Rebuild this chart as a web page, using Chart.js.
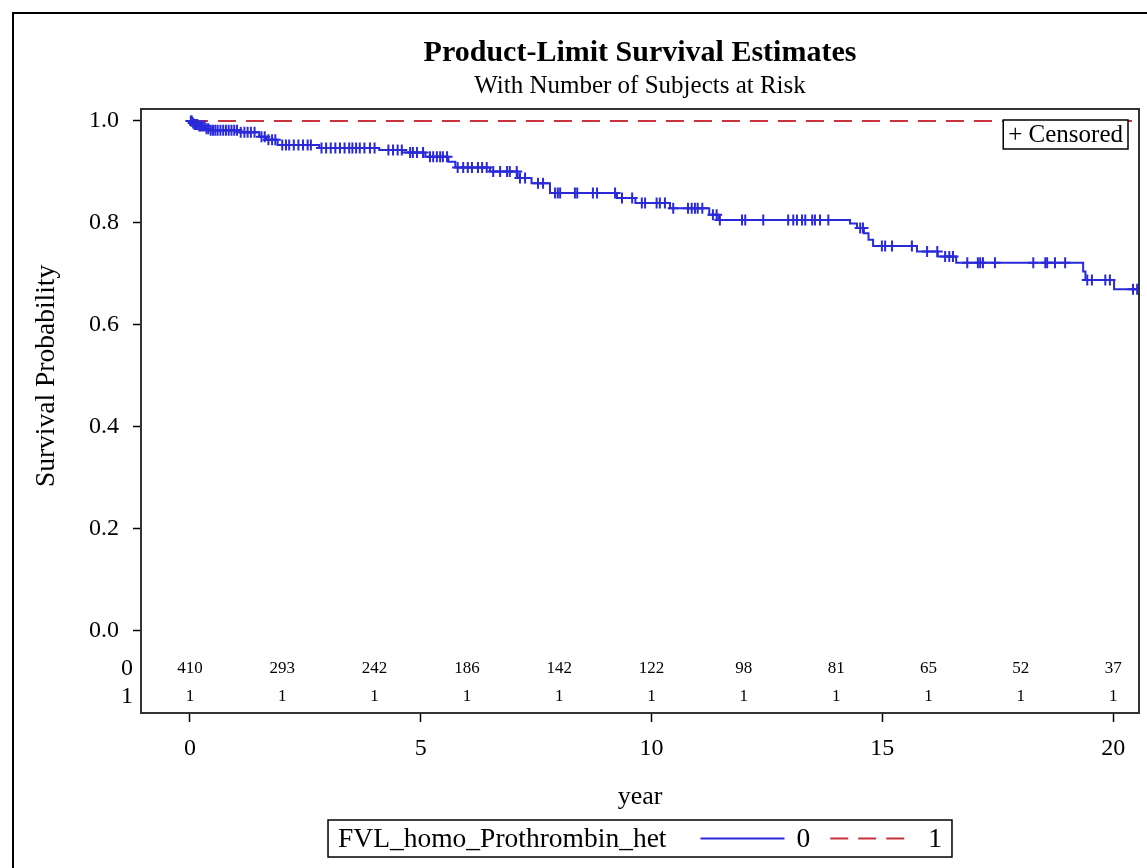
<!DOCTYPE html>
<html><head><meta charset="utf-8">
<script src="https://cdn.jsdelivr.net/npm/chart.js@4.4.1/dist/chart.umd.min.js"></script>
<style>html,body{margin:0;padding:0;background:#fff}#wrap{width:1147px;height:868px;position:relative}</style>
</head><body><div id="wrap"><canvas id="c"></canvas></div>
<script>
// ---- data ----
const titleText = 'Product-Limit Survival Estimates';
const subtitleText = 'With Number of Subjects at Risk';
const groupName = 'FVL_homo_Prothrombin_het';
const groupLabels = ['0', '1'];

// group 0: Kaplan-Meier step points (time, survival after step)
const stepTimes0 = [0, 0.05, 0.1, 0.2, 0.35, 0.45, 1.1, 1.5, 1.65, 1.9, 2.8, 4.1, 4.6, 5.1, 5.6, 5.75, 6.5, 7.1, 7.4, 7.8, 9.25, 9.65, 10.4, 11.25, 11.45, 14.3, 14.45, 14.6, 14.7, 14.8, 15.75, 16.2, 16.6, 19.35, 19.4, 20.02, 20.6];
const stepSurv0  = [1.0, 0.996, 0.993, 0.99, 0.985, 0.982, 0.978, 0.969, 0.963, 0.953, 0.947, 0.943, 0.938, 0.930, 0.920, 0.909, 0.901, 0.888, 0.878, 0.859, 0.849, 0.839, 0.829, 0.816, 0.806, 0.799, 0.790, 0.780, 0.767, 0.755, 0.744, 0.734, 0.722, 0.705, 0.688, 0.670, 0.670];
// group 0: censoring times
const censorTimes0 = [0.02,0.04,0.07,0.1,0.13,0.16,0.2,0.24,0.28,0.32,0.36,0.4,0.45,0.5,0.55,0.6,0.66,0.72,0.78,0.84,0.9,0.96,1.02,1.1,1.18,1.25,1.32,1.4,1.55,1.62,1.7,1.78,1.85,2.0,2.08,2.15,2.25,2.35,2.45,2.55,2.62,2.85,2.95,3.05,3.15,3.25,3.35,3.45,3.52,3.6,3.68,3.78,3.9,4.0,4.3,4.4,4.5,
  4.59,4.77,4.83,4.92,5.05,5.2,5.27,5.35,5.42,5.48,5.57,5.8,5.92,6.02,6.11,6.24,6.33,6.43,6.57,6.72,6.87,6.93,7.08,7.15,7.26,7.54,7.65,7.91,7.97,8.02,8.34,8.39,8.73,8.82,9.21,9.36,9.58,9.79,9.86,10.11,10.18,10.29,10.47,10.79,10.87,10.94,11.0,11.1,11.33,11.41,11.48,11.96,12.03,12.42,12.96,13.07,13.15,13.26,13.33,13.48,13.54,13.65,13.83,14.52,14.58,14.99,15.06,15.21,15.64,15.97,16.19,16.36,16.45,16.53,16.84,17.07,17.12,17.18,17.44,18.27,18.53,18.57,18.74,18.96,19.44,19.54,19.83,19.93,20.43,20.52];
// group 1: single subject, never fails
const stepTimes1 = [0, 21];
const stepSurv1  = [1.0, 1.0];

// number at risk table
const atRiskTimes = [0, 2, 4, 6, 8, 10, 12, 14, 16, 18, 20];
const atRisk0 = [410, 293, 242, 186, 142, 122, 98, 81, 65, 52, 37];
const atRisk1 = [1, 1, 1, 1, 1, 1, 1, 1, 1, 1, 1];

const xTickValues = [0, 5, 10, 15, 20];
const yTickValues = [0, 0.2, 0.4, 0.6, 0.8, 1.0];

// ---- build chart ----
const BLUE = '#2a2ad9';
const RED = '#c8323c';
const FONT = '"Liberation Serif", "Times New Roman", serif';

function survAt(times, surv, t) {
  let v = surv[0];
  for (let i = 0; i < times.length; i++) { if (times[i] <= t) v = surv[i]; else break; }
  return v;
}
const line0 = stepTimes0.map((t, i) => ({x: t, y: stepSurv0[i]}));
const line1 = stepTimes1.map((t, i) => ({x: t, y: stepSurv1[i]}));
const cens0 = censorTimes0.map(t => ({x: t, y: survAt(stepTimes0, stepSurv0, t)}));

const decorPlugin = {
  id: 'decor',
  beforeDraw(chart) {
    const ctx = chart.ctx;
    ctx.save(); ctx.fillStyle = '#fff'; ctx.fillRect(0, 0, chart.width, chart.height); ctx.restore();
  },
  afterDraw(chart) {
    const {ctx, chartArea: a, scales: {x, y}} = chart;
    ctx.save();
    // outer figure border
    ctx.strokeStyle = '#000'; ctx.lineWidth = 2;
    ctx.beginPath(); ctx.moveTo(13, chart.height + 5); ctx.lineTo(13, 13); ctx.lineTo(chart.width + 5, 13); ctx.stroke();
    // plot frame
    ctx.strokeStyle = '#333'; ctx.lineWidth = 2;
    ctx.strokeRect(a.left, a.top, a.right - a.left, a.bottom - a.top);

    ctx.fillStyle = '#000';
    // y axis title centred on 0..1 range
    ctx.save();
    ctx.translate(47, (y.getPixelForValue(0) + y.getPixelForValue(1)) / 2);
    ctx.rotate(-Math.PI / 2);
    ctx.font = '27.5px ' + FONT; ctx.textAlign = 'center'; ctx.textBaseline = 'middle';
    ctx.fillText('Survival Probability', 0, 0);
    ctx.restore();

    // at-risk table
    const rowY = [y.getPixelForValue(-0.0745), y.getPixelForValue(-0.1295)];
    const rows = [atRisk0, atRisk1];
    ctx.font = '17px ' + FONT; ctx.textAlign = 'center'; ctx.textBaseline = 'middle';
    rows.forEach((r, ri) => {
      atRiskTimes.forEach((t, i) => ctx.fillText(String(r[i]), x.getPixelForValue(t), rowY[ri]));
    });
    ctx.font = '24px ' + FONT; ctx.textAlign = 'right';
    groupLabels.forEach((g, i) => ctx.fillText(g, a.left - 8, rowY[i]));

    // Censored box
    ctx.font = '25px ' + FONT;
    const ct = '+ Censored';
    const cw = ctx.measureText(ct).width + 10;
    const bx = a.right - 11 - cw, by = a.top + 11, bh = 29;
    ctx.fillStyle = '#fff'; ctx.fillRect(bx, by, cw, bh);
    ctx.strokeStyle = '#000'; ctx.lineWidth = 1.5; ctx.strokeRect(bx, by, cw, bh);
    ctx.fillStyle = '#000'; ctx.textAlign = 'left'; ctx.textBaseline = 'middle';
    ctx.fillText(ct, bx + 5, by + bh / 2 + 1);

    // bottom legend
    ctx.font = '27.5px ' + FONT;
    const tw = ctx.measureText(groupName).width;
    const w0 = ctx.measureText(groupLabels[0]).width, w1 = ctx.measureText(groupLabels[1]).width;
    const total = 10 + tw + 34 + 84 + 12 + w0 + 20 + 82 + 16 + w1 + 10;
    const lx = (a.left + a.right) / 2 - total / 2, ly = 820, lh = 37, cy = ly + lh / 2;
    ctx.fillStyle = '#fff'; ctx.fillRect(lx, ly, total, lh);
    ctx.strokeStyle = '#000'; ctx.lineWidth = 1.5; ctx.strokeRect(lx, ly, total, lh);
    ctx.fillStyle = '#000';
    let cx = lx + 10;
    ctx.fillText(groupName, cx, cy + 1); cx += tw + 34;
    ctx.strokeStyle = BLUE; ctx.lineWidth = 2; ctx.setLineDash([]);
    ctx.beginPath(); ctx.moveTo(cx, cy); ctx.lineTo(cx + 84, cy); ctx.stroke(); cx += 84 + 12;
    ctx.fillText(groupLabels[0], cx, cy + 1); cx += w0 + 20;
    ctx.strokeStyle = RED; ctx.setLineDash([18, 10]);
    ctx.beginPath(); ctx.moveTo(cx, cy); ctx.lineTo(cx + 82, cy); ctx.stroke(); cx += 82 + 16;
    ctx.setLineDash([]);
    ctx.fillText(groupLabels[1], cx, cy + 1);
    ctx.restore();
  }
};

new Chart(document.getElementById('c'), {
  type: 'line',
  data: {
    datasets: [
      { label: 'cens0', type: 'scatter', data: cens0, showLine: false, pointStyle: 'cross', pointRadius: 5.5,
        pointBorderWidth: 2, borderColor: BLUE, backgroundColor: BLUE, pointHoverRadius: 5.5 },
      { label: groupLabels[0], data: line0, stepped: 'before', borderColor: BLUE, borderWidth: 2, pointRadius: 0, fill: false },
      { label: groupLabels[1], data: line1, stepped: 'before', borderColor: RED, borderWidth: 2, borderDash: [18, 10], pointRadius: 0, fill: false }
    ]
  },
  options: {
    responsive: true, maintainAspectRatio: false, animation: false,
    layout: { padding: { left: 0, right: 8, top: 0, bottom: 55 } },
    plugins: {
      legend: { display: false }, tooltip: { enabled: false },
      title: { display: true, text: titleText, fullSize: false, color: '#000',
        font: { family: FONT, size: 30, weight: 'bold', lineHeight: 1.2 }, padding: { top: 35, bottom: 0 } },
      subtitle: { display: true, text: subtitleText, fullSize: false, color: '#000',
        font: { family: FONT, size: 25, lineHeight: 1.2 }, padding: { top: 0, bottom: 8 } }
    },
    scales: {
      x: { type: 'linear', min: -1.06, max: 20.56,
        afterBuildTicks: s => { s.ticks = xTickValues.map(v => ({value: v})); },
        afterFit: s => { s.height = 100; },
        grid: { display: true, drawOnChartArea: false, drawTicks: true, tickLength: 9, color: '#000', tickWidth: 1.5 },
        border: { display: false },
        ticks: { color: '#000', font: { family: FONT, size: 24 }, padding: 12, maxRotation: 0, callback: v => String(v) },
        title: { display: true, text: 'year', color: '#000', font: { family: FONT, size: 26 }, padding: { top: 0, bottom: 0 } }
      },
      y: { type: 'linear', min: -0.161, max: 1.0235,
        afterBuildTicks: s => { s.ticks = yTickValues.map(v => ({value: v})); },
        afterFit: s => { s.width = 141; },
        grid: { display: true, drawOnChartArea: false, drawTicks: true, tickLength: 8, color: '#000', tickWidth: 1.5 },
        border: { display: false },
        ticks: { color: '#000', font: { family: FONT, size: 24 }, padding: 14, callback: v => Number(v).toFixed(1) },
        title: { display: false }
      }
    }
  },
  plugins: [decorPlugin]
});
</script>
</body></html>
